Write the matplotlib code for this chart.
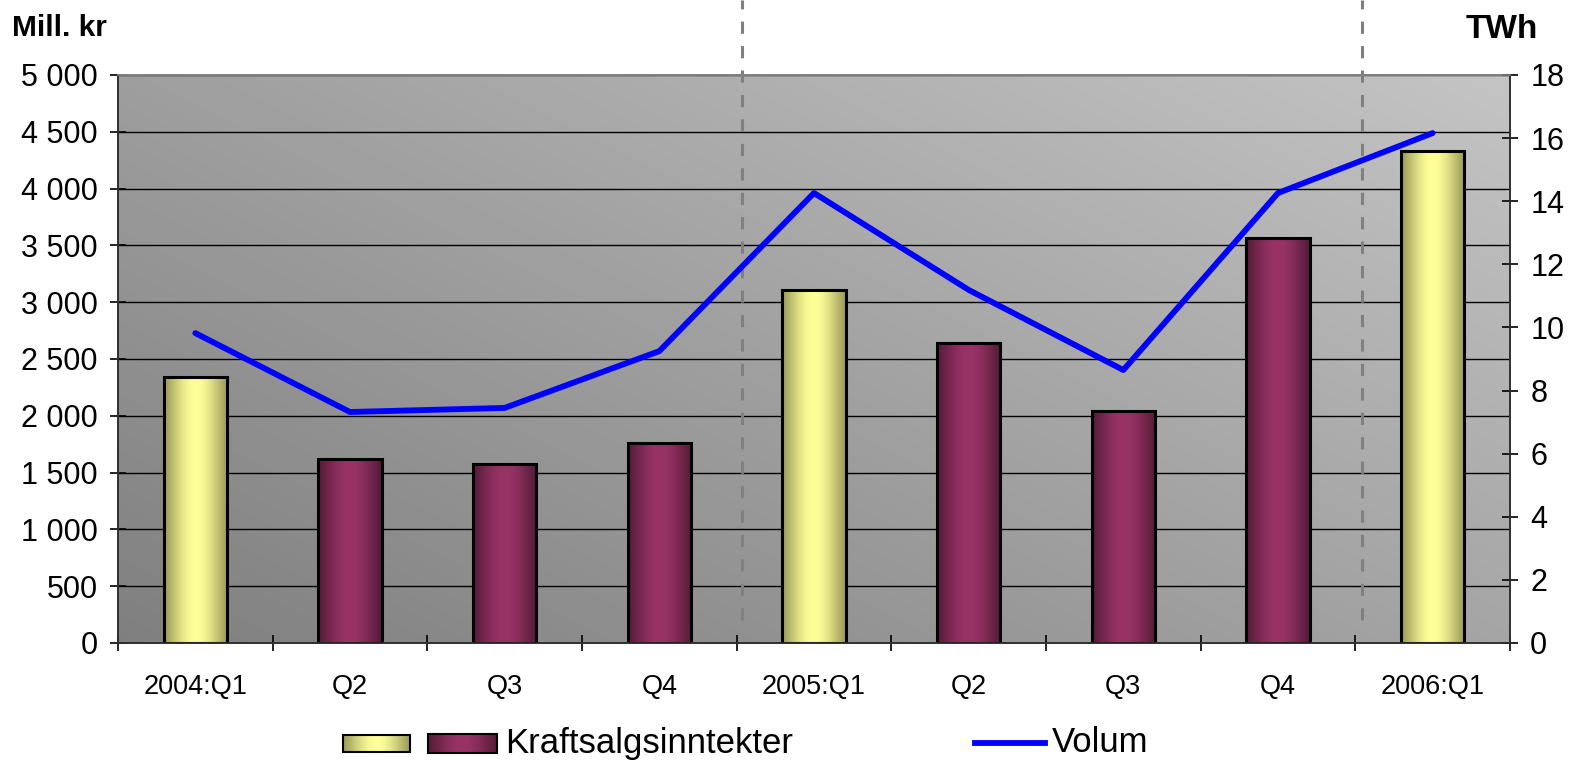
import matplotlib
matplotlib.use("Agg")
import matplotlib.pyplot as plt
import matplotlib.transforms as mtransforms
from matplotlib.colors import to_rgb
from matplotlib.lines import Line2D
from matplotlib.patches import Rectangle
from matplotlib.ticker import FuncFormatter, MultipleLocator, FixedLocator
import numpy as np

plt.rcParams['font.family'] = ['Liberation Sans', 'DejaVu Sans']

# data
kvartal = ["2004:Q1", "Q2", "Q3", "Q4", "2005:Q1", "Q2", "Q3", "Q4", "2006:Q1"]
inntekter = [2345, 1620, 1576, 1760, 3110, 2645, 2045, 3565, 4330]   # Mill. kr
volum = [9.82, 7.32, 7.45, 9.25, 14.26, 11.19, 8.65, 14.26, 16.16]    # TWh
er_q1 = [True, False, False, False, True, False, False, False, True]

gul = (to_rgb("#808048"), to_rgb("#ffff99"))
lilla = (to_rgb("#44162d"), to_rgb("#993366"))


def sylinder(farger, n=64):
    # horisontal gradient, mørk kant -> lys midt -> mørk kant
    t = np.linspace(0, 1, n)
    w = np.sin(np.pi * (0.15 + 0.7 * t)) ** 2
    w = np.clip(w, 0, 1)
    kant, midt = np.array(farger[0]), np.array(farger[1])
    rgb = kant[None, :] * (1 - w[:, None]) + midt[None, :] * w[:, None]
    return rgb[None, :, :]


fig = plt.figure(figsize=(15.77, 7.62), dpi=100)
ax = fig.add_axes([118 / 1577, 1 - 643 / 762, (1510 - 118) / 1577, (643 - 75) / 762])
ax2 = ax.twinx()

n = len(kvartal)
x = np.arange(n)
xmin, xmax = -0.5, n - 0.5
ax.set_xlim(xmin, xmax)
ax.set_ylim(0, 5000)
ax2.set_ylim(0, 18)

# bakgrunn med diagonal gradient
gx, gy = np.meshgrid(np.linspace(0, 1, 200), np.linspace(0, 1, 200))
g = 0.50 + 0.27 * (0.55 * gx + 0.45 * gy)
ax.imshow(np.dstack([g, g, g]), extent=(xmin, xmax, 0, 5000), origin='lower',
          aspect='auto', zorder=0, interpolation='bilinear')

for yv in range(500, 5001, 500):
    ax.axhline(yv, color='black', lw=1.0, zorder=1)

# søyler
bredde = 0.41
bars = ax.bar(x, inntekter, width=bredde, facecolor='none', edgecolor='black',
              linewidth=2.2, zorder=3)
for b, q1 in zip(bars, er_q1):
    x0, w, h = b.get_x(), b.get_width(), b.get_height()
    ax.imshow(sylinder(gul if q1 else lilla), extent=(x0, x0 + w, 0, h),
              aspect='auto', zorder=2, interpolation='bilinear')
ax.set_xlim(xmin, xmax)
ax.set_ylim(0, 5000)

# volum-linje
ax2.plot(x, volum, color='#0000ff', lw=4.2, solid_capstyle='round', zorder=5)

# stiplede årsskiller
trans = mtransforms.blended_transform_factory(ax.transData, ax.transAxes)
for xs in [3.535, 7.54]:
    ax.add_line(Line2D([xs, xs], [0.04, 643 / 568], transform=trans, color='#808080',
                       lw=2.2, ls=(0, (4, 4)), clip_on=False, zorder=4))

# akser
fmt = FuncFormatter(lambda v, p: f"{int(v):,}".replace(",", " "))
ax.yaxis.set_major_locator(MultipleLocator(500))
ax.yaxis.set_major_formatter(fmt)
ax2.yaxis.set_major_locator(MultipleLocator(2))
ax.xaxis.set_major_locator(FixedLocator(np.arange(xmin, xmax + 0.01, 1)))
ax.xaxis.set_major_formatter(FuncFormatter(lambda v, p: ""))
ax.xaxis.set_minor_locator(FixedLocator(x))
ax.set_xticklabels(kvartal, minor=True)
ax.tick_params(axis='x', which='major', direction='inout', length=11, width=1.2)
ax.tick_params(axis='x', which='minor', length=0, pad=22, labelsize=19.5)
ax.tick_params(axis='y', direction='inout', length=11, width=1.2, pad=9, labelsize=22)
ax2.tick_params(axis='y', direction='inout', length=11, width=1.2, pad=9, labelsize=22)

for a in (ax, ax2):
    for s in a.spines.values():
        s.set_linewidth(1.2)
    a.spines['top'].set_color('#808080')
    a.spines['left'].set_color('#303030')
    a.spines['right'].set_color('#303030')
    a.spines['bottom'].set_color('#303030')

fig.text(12 / 1577, 1 - 28 / 762, "Mill. kr", fontsize=21.5, fontweight='bold', va='center')
fig.text(1538 / 1577, 1 - 30 / 762, "TWh", fontsize=24, fontweight='bold',
         va='center', ha='right')

# forklaring
ly = 743
fig.add_artist(Rectangle((343 / 1577, 1 - 752 / 762), 67 / 1577, 17 / 762,
                         transform=fig.transFigure, facecolor='none', edgecolor='black', lw=1.5))
fig.add_artist(Rectangle((428 / 1577, 1 - 753 / 762), 69 / 1577, 19 / 762,
                         transform=fig.transFigure, facecolor='none', edgecolor='black', lw=1.5))
lax = fig.add_axes([0, 0, 1, 1], zorder=-1)
lax.axis('off')
lax.imshow(sylinder(gul), extent=(343, 410, 752, 735), aspect='auto')
lax.imshow(sylinder(lilla), extent=(428, 497, 753, 734), aspect='auto')
lax.set_xlim(0, 1577)
lax.set_ylim(762, 0)
fig.text(505 / 1577, 1 - ly / 762, "Kraftsalgsinntekter", fontsize=25, va='center')
fig.add_artist(Line2D([975 / 1577, 1045 / 1577], [1 - ly / 762, 1 - ly / 762],
                      transform=fig.transFigure, color='#0000ff', lw=4.2))
fig.text(1052 / 1577, 1 - ly / 762, "Volum", fontsize=25, va='center')

fig.savefig("out.png", dpi=100)
